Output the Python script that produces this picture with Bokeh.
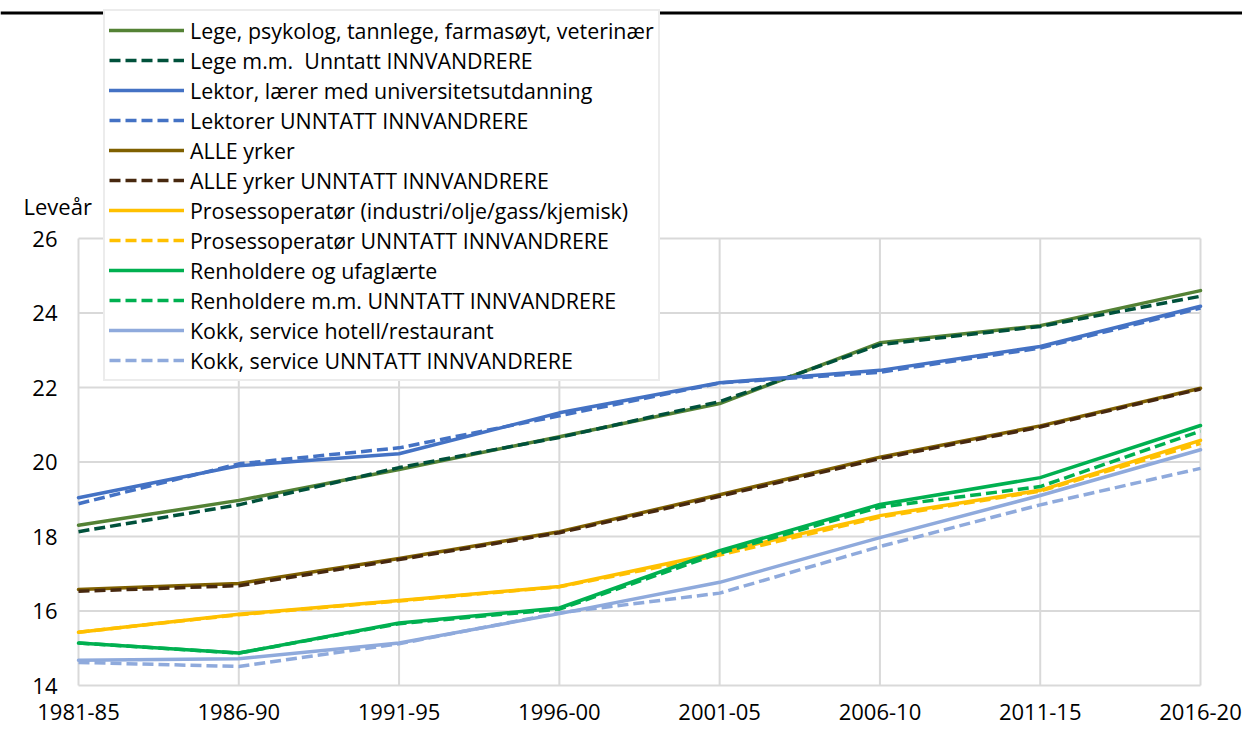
from bokeh.plotting import figure
from bokeh.models import Legend, LegendItem, Label, Range1d, Span
from bokeh.core.properties import value
from bokeh.embed import file_html
from bokeh.resources import INLINE

periods = ["1981-85", "1986-90", "1991-95", "1996-00", "2001-05", "2006-10", "2011-15", "2016-20"]

lege = [18.30, 18.97, 19.80, 20.68, 21.57, 23.20, 23.66, 24.60]
lege_u = [18.13, 18.85, 19.85, 20.66, 21.62, 23.15, 23.64, 24.45]
lektor = [19.04, 19.90, 20.22, 21.32, 22.13, 22.46, 23.10, 24.18]
lektor_u = [18.88, 19.95, 20.38, 21.24, 22.12, 22.41, 23.06, 24.13]
alle = [16.58, 16.74, 17.41, 18.13, 19.12, 20.13, 20.97, 21.98]
alle_u = [16.53, 16.68, 17.38, 18.10, 19.08, 20.09, 20.94, 21.96]
prosess = [15.43, 15.91, 16.28, 16.66, 17.57, 18.56, 19.24, 20.58]
prosess_u = [15.43, 15.90, 16.27, 16.65, 17.50, 18.52, 19.22, 20.50]
renhold = [15.14, 14.87, 15.68, 16.08, 17.62, 18.86, 19.58, 20.98]
renhold_u = [15.14, 14.87, 15.66, 16.05, 17.55, 18.79, 19.34, 20.83]
kokk = [14.68, 14.72, 15.14, 15.93, 16.77, 17.97, 19.10, 20.33]
kokk_u = [14.62, 14.51, 15.12, 15.95, 16.48, 17.73, 18.85, 19.83]

y_ticks = [14, 16, 18, 20, 22, 24, 26]
y_label = "Leveår"

DASH = "11 5"
series = [
    ("Lege, psykolog, tannlege, farmasøyt, veterinær", lege, "#548235", "solid"),
    ("Lege m.m.  Unntatt INNVANDRERE", lege_u, "#00513B", DASH),
    ("Lektor, lærer med universitetsutdanning", lektor, "#4472C4", "solid"),
    ("Lektorer UNNTATT INNVANDRERE", lektor_u, "#4472C4", DASH),
    ("ALLE yrker", alle, "#7F6000", "solid"),
    ("ALLE yrker UNNTATT INNVANDRERE", alle_u, "#47280F", DASH),
    ("Prosessoperatør (industri/olje/gass/kjemisk)", prosess, "#FFC000", "solid"),
    ("Prosessoperatør UNNTATT INNVANDRERE", prosess_u, "#FFC000", DASH),
    ("Renholdere og ufaglærte", renhold, "#00B050", "solid"),
    ("Renholdere m.m. UNNTATT INNVANDRERE", renhold_u, "#00B050", DASH),
    ("Kokk, service hotell/restaurant", kokk, "#8FAADC", "solid"),
    ("Kokk, service UNNTATT INNVANDRERE", kokk_u, "#8FAADC", DASH),
]

FONT = "Open Sans"
FS_TICK = "22px"
FS_LEG = "21.4px"

xs = list(range(len(periods)))
n = len(periods) - 1

# figure geometry (pixels from the picture's top-left corner)
W, H = 1242, 726
FL, FR, FT, FB = 78, 1200, 238, 685   # plot box edges
px_x = (FR - FL) / n
px_y = (FB - FT) / (y_ticks[-1] - y_ticks[0])
x0 = xs[0] - FL / px_x
x1 = xs[-1] + (W - FR) / px_x
y1 = y_ticks[-1] + FT / px_y
y0 = y_ticks[0] - (H - FB) / px_y

p = figure(width=W, height=H, output_backend="svg", toolbar_location=None,
           x_range=Range1d(x0, x1), y_range=Range1d(y0, y1),
           x_axis_location=None, y_axis_location=None,
           min_border=0, min_border_left=0, min_border_right=0,
           min_border_top=0, min_border_bottom=0)
p.outline_line_color = None
p.background_fill_color = "white"
p.border_fill_color = "white"
p.grid.visible = False

# gridlines (plot box)
grid_c = "#d9d9d9"
p.segment(x0=xs, y0=[y_ticks[0]] * len(xs), x1=xs, y1=[y_ticks[-1]] * len(xs),
          line_color=grid_c, line_width=2)
p.segment(x0=[xs[0]] * len(y_ticks), y0=y_ticks, x1=[xs[-1]] * len(y_ticks), y1=y_ticks,
          line_color=grid_c, line_width=2)

# tick labels
p.text(x=xs, y=[y_ticks[0]] * len(xs), text=periods, text_align="center",
       text_baseline="top", y_offset=18, text_font=value(FONT),
       text_font_size=value(FS_TICK), text_color="black")
p.text(x=[xs[0]] * len(y_ticks), y=y_ticks, text=[str(t) for t in y_ticks],
       text_align="right", text_baseline="middle", x_offset=-21,
       text_font=value(FONT), text_font_size=value(FS_TICK), text_color="black")

items = []
for name, vals, color, dash in series:
    r = p.line(xs, vals, line_color=color, line_width=3.5, line_dash=dash,
               line_join="round", line_cap="butt" if dash != "solid" else "round")
    items.append(LegendItem(label=name, renderers=[r]))

legend = Legend(items=items, location=(103, H - 381), orientation="vertical",
                label_text_font=FONT, label_text_font_size=FS_LEG, label_text_color="black",
                glyph_width=75, glyph_height=30, label_height=30, label_standoff=6,
                spacing=0, padding=4, margin=0,
                border_line_color="#d9d9d9", border_line_width=2,
                background_fill_color="white", background_fill_alpha=1.0)
p.add_layout(legend)

p.add_layout(Label(x=xs[0] - 55 / px_x, y=y_ticks[-1] + 33 / px_y, text=y_label,
                   text_baseline="middle", text_font=FONT, text_font_size=FS_TICK,
                   text_color="black"))

# thick black rule at the top (remnant of the cut-off title)
p.add_layout(Span(location=y1 - 12.5 / px_y, dimension="width", line_color="black",
                  line_width=3))

open("out.html", "w").write(file_html(p, INLINE))
